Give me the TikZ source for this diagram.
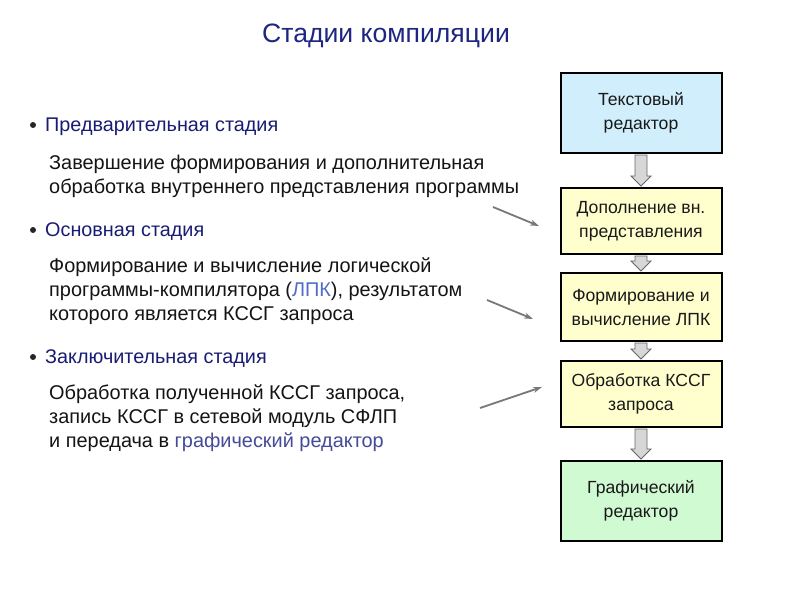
\documentclass[tikz,border=0pt]{standalone}
\usepackage{fontspec}
\setmainfont{Liberation Sans}
\usetikzlibrary{arrows.meta,calc}
\definecolor{titleblue}{RGB}{30,38,130}
\definecolor{headblue}{RGB}{25,28,115}
\definecolor{lpkblue}{RGB}{80,110,200}
\definecolor{grblue}{RGB}{70,75,150}
\definecolor{boxblue}{RGB}{208,238,252}
\definecolor{boxyellow}{RGB}{255,255,206}
\definecolor{boxgreen}{RGB}{208,250,210}
\definecolor{arrgray}{RGB}{120,120,120}
\definecolor{blkfill}{RGB}{215,215,215}
\tikzset{
  stagebox/.style={draw=black,line width=2pt,minimum width=161pt,align=center,inner sep=0pt,
    font=\fontsize{17.6}{24}\selectfont,text=black!90},
  heading/.style={anchor=west,inner sep=0pt,text=headblue,font=\fontsize{19.8}{23}\selectfont},
  bodytext/.style={anchor=west,inner sep=0pt,align=left,text=black!92,font=\fontsize{19.9}{24}\selectfont},
  bulletdot/.style={circle,fill=black!85,inner sep=0pt,minimum size=6pt},
  thinarrow/.style={draw=arrgray,line width=1.8pt,-{Stealth[length=9pt,width=6pt]}},
  blockarr/.style={draw=black!60,fill=blkfill,line width=0.8pt}
}
\newcommand{\blockarrowlink}[2]{%
  \path[blockarr] ($(#1.south)+(-6,1)$) -- ($(#2.north)+(-6,-11)$) -- ($(#2.north)+(-10,-11)$)
    -- ($(#2.north)+(0,-1)$) -- ($(#2.north)+(10,-11)$) -- ($(#2.north)+(6,-11)$)
    -- ($(#1.south)+(6,1)$) -- cycle;}
\begin{document}
\begin{tikzpicture}[x=1pt,y=-1pt]
\useasboundingbox (0,0) rectangle (800,600);
\fill[white] (0,0) rectangle (800,600);

\node[inner sep=0pt,text=titleblue,font=\fontsize{26.6}{30}\selectfont] (title) at (386,36) {Стадии компиляции};

% boxes
\node[stagebox,fill=boxblue,minimum height=80pt] (b1) at (641,113) {Текстовый\\редактор};
\node[stagebox,fill=boxyellow,minimum height=66pt] (b2) at (641,221) {Дополнение вн.\\представления};
\node[stagebox,fill=boxyellow,minimum height=68pt] (b3) at (641,307) {Формирование и\\вычисление ЛПК};
\node[stagebox,fill=boxyellow,minimum height=66pt] (b4) at (641,394) {Обработка КССГ\\запроса};
\node[stagebox,fill=boxgreen,minimum height=80pt] (b5) at (641,501) {Графический\\редактор};

\blockarrowlink{b1}{b2}
\blockarrowlink{b2}{b3}
\blockarrowlink{b3}{b4}
\blockarrowlink{b4}{b5}

% bullets and headings
\node[bulletdot] (d1) at (33,125) {};
\node[heading] (h1) at (45,127) {Предварительная стадия};
\node[bodytext] (t1) at (49,176) {Завершение формирования и дополнительная\\обработка внутреннего представления программы};

\node[bulletdot] (d2) at (33,230) {};
\node[heading] (h2) at (45,232) {Основная стадия};
\node[bodytext] (t2) at (49,291) {Формирование и вычисление логической\\программы-компилятора (\textcolor{lpkblue}{ЛПК}), результатом\\которого является КССГ запроса};

\node[bulletdot] (d3) at (33,357) {};
\node[heading] (h3) at (45,359) {Заключительная стадия};
\node[bodytext] (t3) at (49,418) {Обработка полученной КССГ запроса,\\запись КССГ в сетевой модуль СФЛП\\и передача в \textcolor{grblue}{графический редактор}};

% thin arrows
\coordinate (a1s) at (493,207);
\coordinate (a1e) at (539,226);
\coordinate (a2s) at (487,300);
\coordinate (a2e) at (533,319);
\coordinate (a3s) at (480,408);
\coordinate (a3e) at (542,387);
\draw[thinarrow] (a1s) -- (a1e);
\draw[thinarrow] (a2s) -- (a2e);
\draw[thinarrow] (a3s) -- (a3e);
\end{tikzpicture}
\end{document}
